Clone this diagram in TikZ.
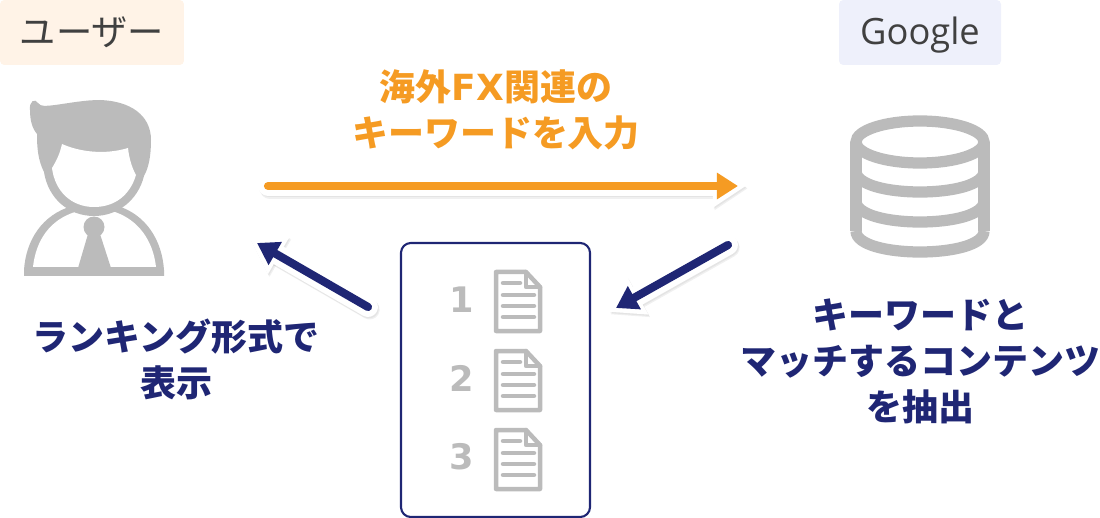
\documentclass[tikz,border=0pt]{standalone}
\usepackage{fontspec}
\setmainfont{Noto Sans CJK JP}
\newfontfamily\googlefont{Open Sans}
\newfontfamily\numfont{DejaVu Sans}
\usetikzlibrary{arrows.meta}

\definecolor{navy}{HTML}{1F2674}
\definecolor{orangeline}{HTML}{F59B23}
\definecolor{iconGray}{HTML}{BBBBBB}
\definecolor{labelText}{HTML}{404040}
\definecolor{userFill}{HTML}{FFF3E7}
\definecolor{googleFill}{HTML}{EEF0FB}

\tikzset{
    labelbox/.style = {rounded corners = 3pt, minimum height = 46.2pt, text = labelText,
                       font = \fontsize{25.8}{30}\selectfont, inner sep = 0pt},
    bigtext/.style = {align = center, font = \fontsize{25.6}{32.7}\selectfont\bfseries},
    rankno/.style = {text = iconGray, font = \fontsize{25}{30}\selectfont\numfont\bfseries},
    haloline/.style = {draw = white, line width = 14.2pt, line cap = round, shorten > = -5.7pt,
                       -{Triangle[length = 23.5pt, width = 29pt]}},
    softshadow/.style = {haloline, draw = black, opacity = 0.05,
                         transform canvas = {shift = {(0.6pt, -1pt)}}},
    shadowline/.style = {haloline, draw = black, opacity = 0.06,
                         transform canvas = {shift = {(1.2pt, -1.8pt)}}},
    flowline/.style = {line width = 5.8pt, line cap = round,
                       -{Triangle[length = 15pt, width = 18pt]}},
    iconline/.style = {draw = iconGray, line width = 8pt},
    docline/.style = {draw = iconGray, line width = 3.2pt, line cap = round, line join = round},
    docicon/.pic = {
        \draw [docline, fill = white] (0, 0) -- (30, 0) -- (44, 15) -- (44, 59) -- (0, 59) -- cycle;
        \draw [docline] (30, 0) -- (30, 15) -- (44, 15);
        \draw [docline] (7, 11) -- (24, 11);
        \foreach \ly in {23, 34, 45}
            \draw [docline] (7, \ly) -- (38, \ly);
    }
}

\newcommand{\flowarrow}[3]{
    \draw [shadowline] (#2) -- (#3);
    \draw [softshadow] (#2) -- (#3);
    \draw [haloline] (#2) -- (#3);
    \draw [flowline, #1] (#2) -- (#3);
}

\begin{document}
\begin{tikzpicture}[x = 0.025cm, y = -0.025cm]
    \useasboundingbox (0, 0) rectangle (1100, 518);

    \node [labelbox, fill = userFill, minimum width = 130.8pt] (user) at (92, 32.5) {ユーザー};
    \node [labelbox, fill = googleFill, minimum width = 115.2pt] (google) at (920, 32.5) {\raisebox{-8.2pt}[0pt][0pt]{\googlefont Google}};

    \fill [iconGray] (24, 276) -- (24, 270) .. controls (26, 240) and (42, 215) .. (72, 206)
        -- (118, 206) .. controls (146, 215) and (162, 240) .. (164, 270) -- (164, 276) -- cycle;
    \fill [white] (33, 267) .. controls (36, 240) and (50, 220) .. (75, 212)
        -- (115, 212) .. controls (138, 220) and (153, 240) .. (156, 267) -- cycle;
    \fill [iconGray] (30, 110) .. controls (29, 101) and (35, 98) .. (38, 103)
        .. controls (41, 107) and (46, 106) .. (55, 105)
        .. controls (70, 103) and (85, 100) .. (100, 100)
        .. controls (130, 101) and (151, 115) .. (151, 140)
        .. controls (151, 155) and (149, 167) .. (144, 176)
        .. controls (138, 200) and (118, 216) .. (94, 216)
        .. controls (68, 216) and (48, 198) .. (44, 172)
        .. controls (38, 160) and (37, 148) .. (37, 134)
        .. controls (32, 128) and (30, 120) .. (30, 110) -- cycle;
    \fill [white] (62, 144) .. controls (80, 152) and (105, 155) .. (128, 148)
        .. controls (129, 158) and (132, 168) .. (136, 175)
        .. controls (130, 195) and (115, 207) .. (94, 207)
        .. controls (72, 207) and (55, 192) .. (52, 168)
        .. controls (57, 160) and (60, 153) .. (62, 144) -- cycle;
    \fill [iconGray] (94, 227) circle [radius = 10.5];
    \fill [iconGray] (88, 234) -- (100, 234) -- (111, 268) -- (78, 268) -- cycle;

    \draw [iconline] (920, 142) ellipse [x radius = 64, y radius = 21];
    \draw [iconline] (856, 142) -- (856, 231);
    \draw [iconline] (984, 142) -- (984, 231);
    \foreach \dby in {171, 201, 231}
        \draw [iconline] (856, \dby) .. controls (856, \dby + 28) and (984, \dby + 28) .. (984, \dby);

    \draw [navy, line width = 1.5pt, rounded corners = 7pt] (401, 243) rectangle (590, 517);
    \node [rankno] (rank1) at (462, 300) {1};
    \node [rankno] (rank2) at (462, 378) {2};
    \node [rankno] (rank3) at (462, 457) {3};
    \pic at (496, 272) {docicon};
    \pic at (496, 351) {docicon};
    \pic at (496, 430) {docicon};

    \coordinate (query start) at (268, 186);
    \coordinate (query end) at (738, 186);
    \coordinate (match start) at (728, 245);
    \coordinate (match end) at (616, 308);
    \coordinate (rank start) at (368, 307);
    \coordinate (rank end) at (257, 243);

    \flowarrow{orangeline}{query start}{query end}
    \flowarrow{navy}{match start}{match end}
    \flowarrow{navy}{rank start}{rank end}

    \node [bigtext, text = orangeline] (query) at (496, 110) {海外{\numfont FX}関連の\\キーワードを入力};
    \node [bigtext, text = navy] (match) at (920, 361) {キーワードと\\マッチするコンテンツ\\を抽出};
    \node [bigtext, text = navy] (rank) at (176, 359) {ランキング形式で\\表示};
\end{tikzpicture}
\end{document}
